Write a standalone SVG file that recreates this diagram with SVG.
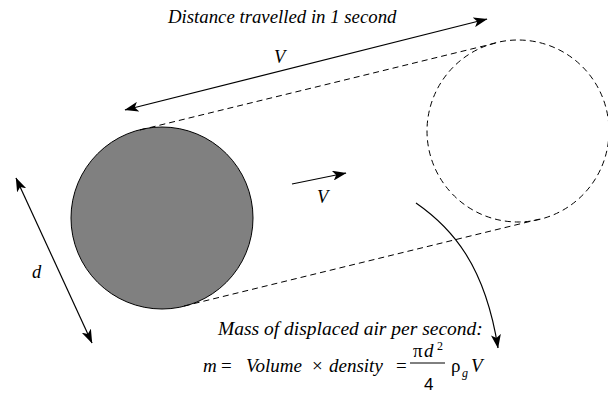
<svg xmlns="http://www.w3.org/2000/svg" width="608" height="393" viewBox="0 0 608 393">
<style>
text{fill:#000;font-family:"Liberation Serif","Times New Roman",Times,serif}
.t{font-size:18.5px;font-style:italic}
.f{font-size:19px;font-style:italic}
.u{font-size:19px;font-style:normal}
.sm{font-size:12px}
.s{font-size:17px;font-family:"Liberation Sans",Arial,sans-serif}
.ln{stroke:#000;stroke-width:1.2;fill:none}
.da{stroke:#000;stroke-width:1;fill:none;stroke-dasharray:6 4}
</style>
<defs>
<marker id="ah" viewBox="0 0 14 10" refX="13.5" refY="5" markerWidth="14" markerHeight="10" markerUnits="userSpaceOnUse" orient="auto-start-reverse">
<path d="M0,0 L14,5 L0,10 L3.5,5 z" fill="#000"/>
</marker>
</defs>
<g id="sphere">
<circle cx="162" cy="218" r="91" fill="#808080" stroke="#000" stroke-width="1"/>
</g>
<g id="sphere-displaced">
<circle cx="518" cy="131" r="91" class="da"/>
</g>
<g id="connectors">
<line x1="140" y1="130" x2="496" y2="43" class="da"/>
<line x1="184" y1="306" x2="540" y2="219" class="da"/>
<line x1="125" y1="110" x2="487" y2="19" class="ln" marker-start="url(#ah)" marker-end="url(#ah)"/>
<line x1="16" y1="178" x2="92" y2="343" class="ln" marker-start="url(#ah)" marker-end="url(#ah)"/>
<line x1="292" y1="184" x2="346" y2="173" class="ln" marker-end="url(#ah)"/>
<path d="M416,203 C452,228 485,265 498,348" class="ln" marker-end="url(#ah)"/>
</g>
<g id="labels">
<text class="t" x="168" y="23" style="font-size:18.8px">Distance travelled in 1 second</text>
<text class="t" x="274" y="63">V</text>
<text class="t" x="317" y="203">V</text>
<text class="t" x="32" y="278">d</text>
<text class="t" x="218" y="335" style="font-size:19.5px">Mass of displaced air per second:</text>
</g>
<g id="formula">
<text class="f" x="203" y="372">m</text>
<text class="u" x="221" y="372">=</text>
<text class="f" x="246" y="372">Volume</text>
<text class="u" x="312" y="372">×</text>
<text class="f" x="329" y="372">density</text>
<text class="u" x="396" y="372">=</text>
<line x1="410" y1="363" x2="445" y2="363" stroke="#000" stroke-width="1"/>
<text class="u" x="413" y="357">π</text>
<text class="f" x="424" y="357">d</text>
<text class="sm" x="437" y="350">2</text>
<text class="s" x="424" y="390">4</text>
<text class="u" x="451" y="372">ρ</text>
<text class="sm" x="462" y="377" font-style="italic">g</text>
<text class="f" x="471" y="372">V</text>
</g>
</svg>
